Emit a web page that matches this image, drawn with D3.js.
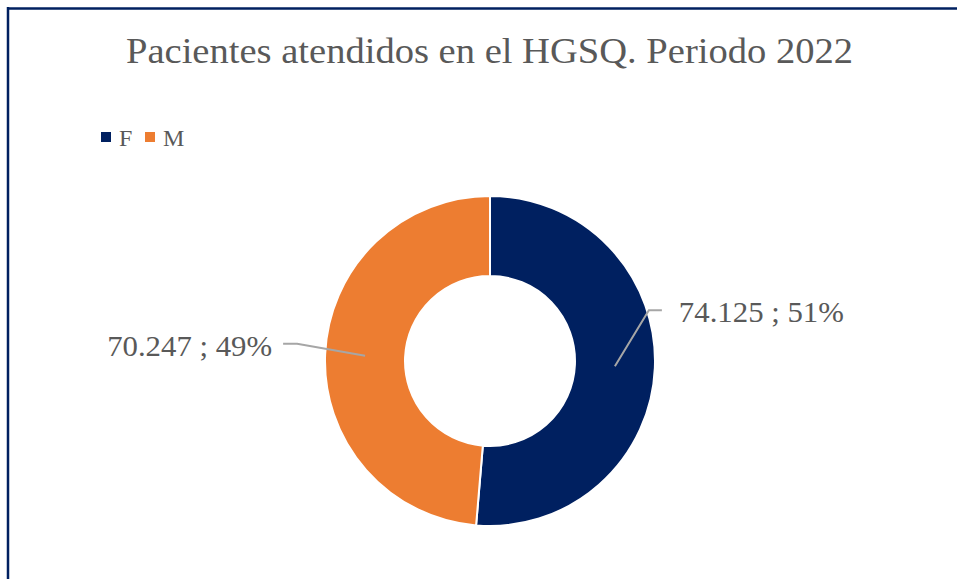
<!DOCTYPE html>
<html>
<head>
<meta charset="utf-8">
<script src="https://cdn.jsdelivr.net/npm/d3@7"></script>
<style>
  html, body { margin: 0; padding: 0; background: #fff; }
  svg { display: block; }
  text { font-family: "Liberation Serif", "DejaVu Serif", serif; fill: #595959; }
</style>
</head>
<body>
<script>
const categories = ["F", "M"];
const values = [74125, 70247];
const percentLabels = ["51%", "49%"];
const valueLabels = ["74.125", "70.247"];
const colors = ["#002060", "#ED7D31"];
const title = "Pacientes atendidos en el HGSQ. Periodo 2022";

const W = 957, H = 579;
const svg = d3.select("body").append("svg").attr("width", W).attr("height", H);

// border (top and left)
svg.append("line").attr("x1", 7).attr("y1", 8.5).attr("x2", W).attr("y2", 8.5)
  .attr("stroke", "#002060").attr("stroke-width", 2.5);
svg.append("line").attr("x1", 8).attr("y1", 7).attr("x2", 8).attr("y2", H)
  .attr("stroke", "#002060").attr("stroke-width", 2.5);

// title
svg.append("text").attr("x", 126).attr("y", 63)
  .attr("font-size", 35)
  .attr("textLength", 727).attr("lengthAdjust", "spacingAndGlyphs")
  .text(title);

// legend
const legendX = [101, 145];
const leg = svg.selectAll("g.leg").data(categories).join("g").attr("class", "leg")
  .attr("transform", (d, i) => `translate(${legendX[i]},132)`);
leg.append("rect").attr("width", 10).attr("height", 10).attr("fill", (d, i) => colors[i]);
leg.append("text").attr("x", 18).attr("y", 13.5).attr("font-size", 24).text(d => d);

// donut
const cx = 490, cy = 361, rOuter = 165, rInner = 85;
const pie = d3.pie().sort(null).value(d => d)(values);
const arc = d3.arc().innerRadius(rInner).outerRadius(rOuter);
const g = svg.append("g").attr("transform", `translate(${cx},${cy})`);
g.selectAll("path").data(pie).join("path")
  .attr("d", arc)
  .attr("fill", (d, i) => colors[i])
  .attr("stroke", "#fff").attr("stroke-width", 2);

// labels with leader lines
const mid = d3.arc().innerRadius((rInner + rOuter) / 2).outerRadius((rInner + rOuter) / 2);
const leader = [
  { elbow: [34, -56], end: [47, -56], tx: 64, ty: -44, anchor: "start" },
  { elbow: [-68, -12], end: [-82, -12], tx: -93, ty: 0, anchor: "end" }
];
pie.forEach((d, i) => {
  const c = mid.centroid(d);
  const L = leader[i];
  const pts = [c, [c[0] + L.elbow[0], c[1] + L.elbow[1]], [c[0] + L.end[0], c[1] + L.end[1]]];
  g.append("path").attr("d", d3.line()(pts))
    .attr("fill", "none").attr("stroke", "#A6A6A6").attr("stroke-width", 2);
  g.append("text")
    .attr("x", c[0] + L.tx).attr("y", c[1] + L.ty)
    .attr("text-anchor", L.anchor)
    .attr("font-size", 30)
    .attr("textLength", 165).attr("lengthAdjust", "spacingAndGlyphs")
    .text(valueLabels[i] + " ; " + percentLabels[i]);
});
</script>
</body>
</html>
